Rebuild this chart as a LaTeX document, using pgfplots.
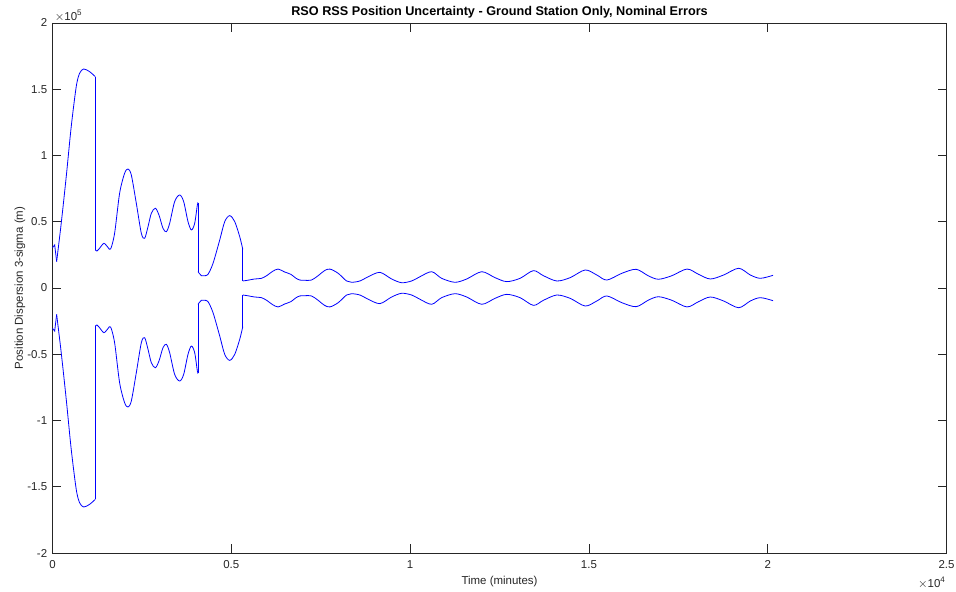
\documentclass[border=0pt]{standalone}
\usepackage{fontspec}
\setmainfont{Liberation Sans}
\usepackage{pgfplots}
\usepackage{pgfplotstable}
\pgfplotsset{compat=1.18}
\definecolor{mgray}{rgb}{0.15,0.15,0.15}

\pgfplotstableread{
t v
0 30500
60 32500
115 20000
}\segA
\pgfplotstableread{
t v
115 20000
243 48800
383 84000
523 121800
663 152000
756 162000
870 165300
1036 163300
1176 160000
1195 159500
}\segB
\pgfplotstableread{
t v
1195 159500
1195 28700
}\dropA
\pgfplotstableread{
t v
1195 28700
1241 27900
1316 30000
1437 33700
1549 30700
1624 29400
1736 41300
1876 71500
2016 86600
2110 89800
2203 85300
2343 63900
2483 41300
2576 37500
2670 46300
2763 56400
2875 60200
2977 55100
3088 45100
3183 42500
3275 48800
3415 65200
3555 70200
3667 65200
3788 50100
3883 43800
3975 48800
4050 62700
4069 63900
}\segC
\pgfplotstableread{
t v
4069 63900
4069 12300
}\dropB
\pgfplotstableread{
t v
4069 12300
4162 9300
4255 9300
4347 10300
4488 18600
4675 36200
4815 50100
4955 54600
5095 50100
5235 38700
5320 29200
}\segD
\pgfplotstableread{
t v
5320 29200
5320 5300
}\dropC
\pgfplotstableread{
t v
5320 5300
5450 5800
5650 6800
5842 7300
6000 9500
6150 12500
6308 14300
6480 12200
6666 10300
6800 7500
6915 6000
7055 5800
7242 6000
7428 9300
7600 13000
7755 14300
7987 11100
8222 5300
8362 4300
8595 5300
8828 8500
9154 11800
9482 6800
9762 4000
10042 5300
10274 8500
10601 12300
10881 7300
11254 4300
11582 6800
12002 12300
12374 7800
12702 4800
13074 7300
13446 13100
13726 9300
14101 5300
14474 7800
14894 13600
15221 9800
15501 6000
15921 11100
16321 14100
16666 9100
16946 6600
17321 9300
17741 14300
18066 10300
18393 6800
18766 9800
19186 14900
19513 9800
19793 7300
20150 9600
}\segE

\newcommand{\segplot}[2]{%
  \addplot[blue, line width=0.6pt, #2] table[x=t, y=v] {#1};
  \addplot[blue, line width=0.6pt, #2] table[x=t, y expr=-\thisrow{v}] {#1};
}

\begin{document}
\begin{tikzpicture}
\begin{axis}[
  width=670.5pt, height=397.5pt, scale only axis,
  xmin=0, xmax=25000, ymin=-200000, ymax=200000,
  xtick={0,5000,...,25000}, xticklabels={0,0.5,1,1.5,2,2.5},
  ytick={-200000,-150000,...,200000},
  yticklabels={-2,-1.5,-1,-0.5,0,0.5,1,1.5,2},
  scaled ticks=false,
  tick align=inside, tick pos=both, major tick length=6.5pt,
  axis line style={draw=mgray, line width=0.5pt},
  every tick/.style={draw=mgray, line width=0.5pt},
  tick label style={font=\fontsize{8.6}{10}\selectfont, text=mgray},
  xticklabel style={yshift=-2.2pt},
  yticklabel style={xshift=-0.5pt},
  clip=false,
]
\segplot{\segA}{}
\segplot{\segB}{smooth}
\segplot{\dropA}{}
\segplot{\segC}{smooth}
\segplot{\dropB}{}
\segplot{\segD}{smooth}
\segplot{\dropC}{}
\segplot{\segE}{smooth}
\end{axis}
\node[anchor=center, font=\fontsize{9.5}{11}\selectfont\bfseries] at ([yshift=8.4pt]current axis.north) {RSO RSS Position Uncertainty - Ground Station Only, Nominal Errors};
\node[anchor=center, font=\fontsize{8.6}{10}\selectfont, text=mgray] at ([yshift=-21.5pt]current axis.south) {Time (minutes)};
\node[anchor=center, rotate=90, font=\fontsize{8.6}{10}\selectfont, text=mgray] at ([xshift=-24.4pt]current axis.west) {Position Dispersion 3-sigma (m)};
\node[anchor=west, font=\fontsize{8.6}{10}\selectfont, text=mgray, inner sep=0pt] at ([xshift=1.5pt, yshift=5.5pt]current axis.north west) {$\times$10\textsuperscript{5}};
\node[anchor=east, font=\fontsize{8.6}{10}\selectfont, text=mgray, inner sep=0pt] at ([xshift=-0.5pt, yshift=-22.5pt]current axis.south east) {$\times$10\textsuperscript{4}};
\pgfresetboundingbox
\path[use as bounding box] ([xshift=-39.4pt, yshift=-29.25pt]current axis.south west) rectangle ([xshift=7.1pt, yshift=17.25pt]current axis.north east);
\end{tikzpicture}
\end{document}
